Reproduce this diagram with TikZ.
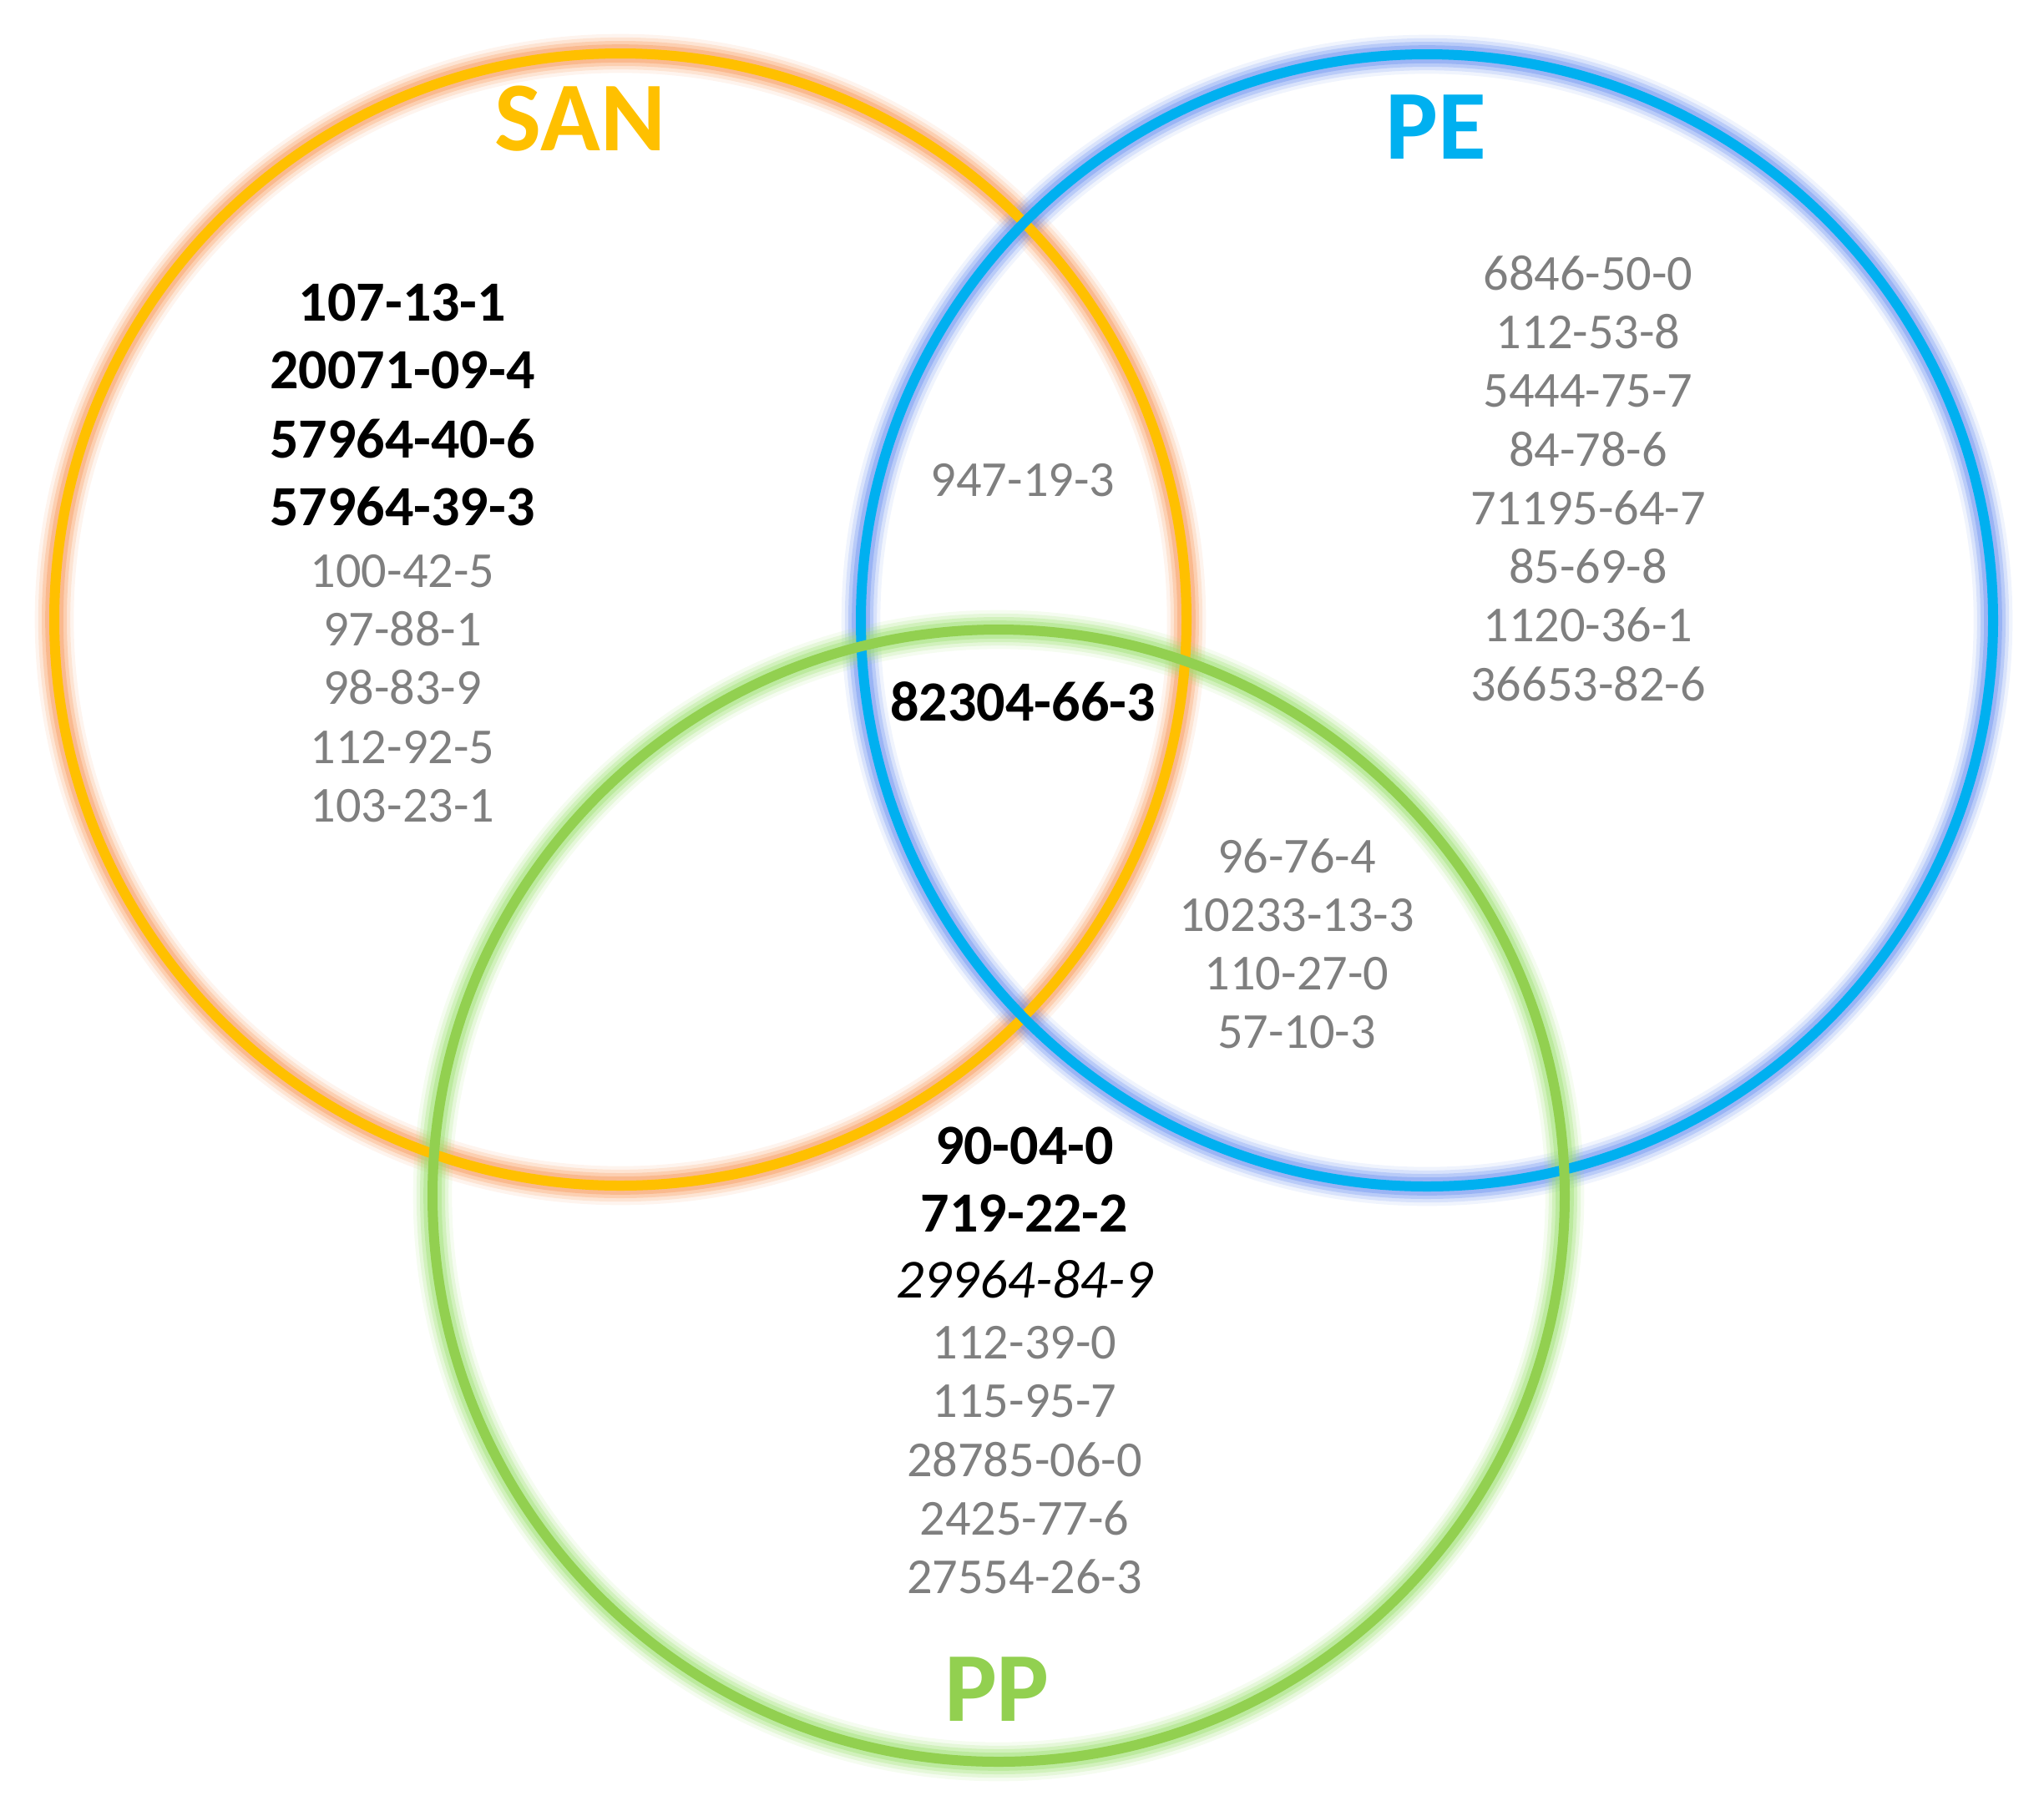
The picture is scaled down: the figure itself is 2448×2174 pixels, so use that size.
\documentclass[tikz,border=0pt]{standalone}
\usepackage{fontspec}
\setmainfont{Carlito}
\definecolor{sanc}{HTML}{FFC000}
\definecolor{sanglow}{HTML}{F89858}
\definecolor{pec}{HTML}{00B0F0}
\definecolor{peglow}{HTML}{6A90F0}
\definecolor{ppc}{HTML}{92D050}
\definecolor{ppglow}{HTML}{9CE070}
\definecolor{txtgray}{HTML}{7F7F7F}
\begin{document}
\begin{tikzpicture}[x=0.3pt,y=-0.3pt,
  gr/.style={font=\fontsize{18.1}{21}\selectfont, text=txtgray, anchor=base, inner sep=0pt},
  bd/.style={font=\fontsize{20.4}{23}\selectfont\bfseries, text=black, anchor=base, inner sep=0pt},
  itl/.style={font=\fontsize{19.8}{23}\selectfont\itshape, text=black, anchor=base, inner sep=0pt},
  ttl/.style={font=\fontsize{35.5}{40}\selectfont\bfseries, anchor=base, inner sep=0pt},
  glow/.style={draw=#1, fill=none},
  ring/.style={draw=#1, line width=3.6pt, fill=none}]
\useasboundingbox (0,0) rectangle (2448,2174);
% centres
\coordinate (csan) at (743,742);
\coordinate (cpe) at (1709,743);
\coordinate (cpp) at (1196,1432);
% glows
\foreach \c/\col in {csan/sanglow, cpe/peglow, cpp/ppglow}{
  \draw[glow=\col, line width=14pt, opacity=0.10] (\c) circle [radius=203.4pt];
  \draw[glow=\col, line width=11.5pt, opacity=0.18] (\c) circle [radius=203.4pt];
  \draw[glow=\col, line width=9pt, opacity=0.28] (\c) circle [radius=203.4pt];
  \draw[glow=\col, line width=6.5pt, opacity=0.4] (\c) circle [radius=203.4pt];
}
% rings
\draw[ring=sanc] (csan) circle [radius=203.4pt];
\draw[ring=pec] (cpe) circle [radius=203.4pt];
\draw[ring=ppc] (cpp) circle [radius=203.4pt];
% titles
\node[ttl, text=sanc] (tsan) at (695,180) {SAN};
\node[ttl, text=pec] (tpe) at (1720,190) {PE};
\node[ttl, text=ppc] (tpp) at (1194,2061) {PP};
% SAN only
\node[bd] (s1) at (482,384) {107-13-1};
\node[bd] (s2) at (482,465) {20071-09-4};
\node[bd] (s3) at (482,548) {57964-40-6};
\node[bd] (s4) at (482,629) {57964-39-3};
\node[gr] (s5) at (482,703) {100-42-5};
\node[gr] (s6) at (482,773) {97-88-1};
\node[gr] (s7) at (482,843) {98-83-9};
\node[gr] (s8) at (482,914) {112-92-5};
\node[gr] (s9) at (482,984) {103-23-1};
% SAN & PE
\node[gr] (sp1) at (1225,594) {947-19-3};
% all three
\node[bd] (all1) at (1225,863) {82304-66-3};
% PE only
\node[gr] (p1) at (1902,347) {6846-50-0};
\node[gr] (p2) at (1902,417) {112-53-8};
\node[gr] (p3) at (1902,487) {5444-75-7};
\node[gr] (p4) at (1902,558) {84-78-6};
\node[gr] (p5) at (1902,628) {71195-64-7};
\node[gr] (p6) at (1902,698) {85-69-8};
\node[gr] (p7) at (1902,768) {1120-36-1};
\node[gr] (p8) at (1902,839) {36653-82-6};
% PE & PP
\node[gr] (pp1) at (1553,1045) {96-76-4};
\node[gr] (pp2) at (1553,1115) {10233-13-3};
\node[gr] (pp3) at (1553,1185) {110-27-0};
\node[gr] (pp4) at (1553,1255) {57-10-3};
% PP only
\node[bd] (q1) at (1227,1394) {90-04-0};
\node[bd] (q2) at (1227,1475) {719-22-2};
\node[itl] (q3) at (1227,1554) {29964-84-9};
\node[gr] (q4) at (1227,1627) {112-39-0};
\node[gr] (q5) at (1227,1697) {115-95-7};
\node[gr] (q6) at (1227,1768) {28785-06-0};
\node[gr] (q7) at (1227,1838) {2425-77-6};
\node[gr] (q8) at (1227,1908) {27554-26-3};
\end{tikzpicture}
\end{document}
